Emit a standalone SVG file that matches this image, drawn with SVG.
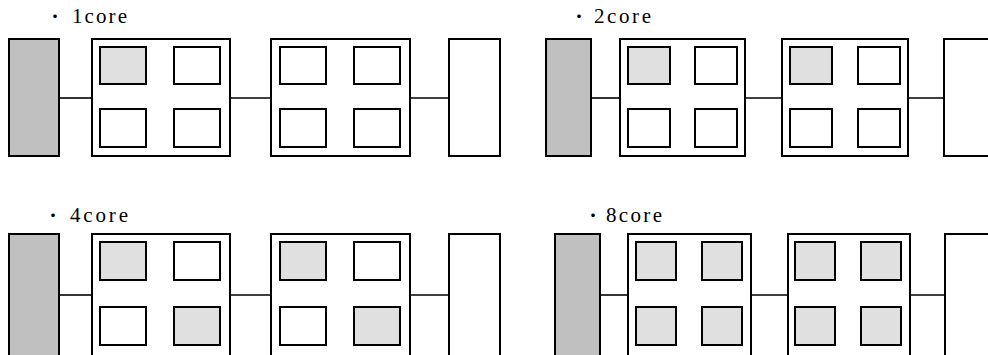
<svg xmlns="http://www.w3.org/2000/svg" width="988" height="355" viewBox="0 0 988 355">
<style>
.mem{fill:#c0c0c0;stroke:#000;stroke-width:2}
.box{fill:#fff;stroke:#000;stroke-width:2}
.core{fill:#fff;stroke:#000;stroke-width:2}
.on{fill:#e0e0e0}
.conn line{stroke:#000;stroke-width:1.6}
.lbl{font-family:"Liberation Serif","Noto Sans CJK JP",serif;font-size:21px;fill:#000}
.dot{font-family:"Noto Sans CJK JP",sans-serif;font-size:17px;fill:#000}
</style>
<rect width="988" height="355" fill="#fff"/>

<!-- Panel 1: 1core -->
<g id="label-1core"><text class="dot" x="55" y="23" text-anchor="middle">・</text><text class="lbl" x="72" y="23" textLength="55" lengthAdjust="spacing">1core</text></g>
<g id="p1-mem"><rect class="mem" x="9" y="39" width="50" height="117"/></g>
<g id="p1-cpu1"><rect class="box" x="92" y="39" width="138" height="117"/>
<rect class="core on" x="100" y="47" width="46" height="37"/><rect class="core" x="174" y="47" width="46" height="37"/>
<rect class="core" x="100" y="109" width="46" height="38"/><rect class="core" x="174" y="109" width="46" height="38"/></g>
<g id="p1-cpu2"><rect class="box" x="271" y="39" width="139" height="117"/>
<rect class="core" x="280" y="47" width="46" height="37"/><rect class="core" x="354" y="47" width="46" height="37"/>
<rect class="core" x="280" y="109" width="46" height="38"/><rect class="core" x="354" y="109" width="46" height="38"/></g>
<g id="p1-dev"><rect class="box" x="449" y="39" width="51" height="117"/></g>

<!-- Panel 2: 2core -->
<g id="label-2core"><text class="dot" x="579" y="23" text-anchor="middle">・</text><text class="lbl" x="594" y="23" textLength="57" lengthAdjust="spacing">2core</text></g>
<g id="p2-mem"><rect class="mem" x="546" y="39" width="45" height="117"/></g>
<g id="p2-cpu1"><rect class="box" x="620" y="39" width="125" height="117"/>
<rect class="core on" x="628" y="47" width="42" height="37"/><rect class="core" x="695" y="47" width="42" height="37"/>
<rect class="core" x="628" y="109" width="42" height="38"/><rect class="core" x="695" y="109" width="42" height="38"/></g>
<g id="p2-cpu2"><rect class="box" x="782" y="39" width="126" height="117"/>
<rect class="core on" x="790" y="47" width="42" height="37"/><rect class="core" x="858" y="47" width="42" height="37"/>
<rect class="core" x="790" y="109" width="42" height="38"/><rect class="core" x="858" y="109" width="42" height="38"/></g>
<g id="p2-dev"><rect class="box" x="944" y="39" width="60" height="117"/></g>

<!-- Panel 3: 4core -->
<g id="label-4core"><text class="dot" x="53" y="222" text-anchor="middle">・</text><text class="lbl" x="70" y="222" textLength="58" lengthAdjust="spacing">4core</text></g>
<g id="p3-mem"><rect class="mem" x="9" y="234" width="50" height="125"/></g>
<g id="p3-cpu1"><rect class="box" x="92" y="234" width="138" height="125"/>
<rect class="core on" x="100" y="242" width="46" height="38"/><rect class="core" x="174" y="242" width="46" height="38"/>
<rect class="core" x="100" y="307" width="46" height="38"/><rect class="core on" x="174" y="307" width="46" height="38"/></g>
<g id="p3-cpu2"><rect class="box" x="271" y="234" width="139" height="125"/>
<rect class="core on" x="280" y="242" width="46" height="38"/><rect class="core" x="354" y="242" width="46" height="38"/>
<rect class="core" x="280" y="307" width="46" height="38"/><rect class="core on" x="354" y="307" width="46" height="38"/></g>
<g id="p3-dev"><rect class="box" x="449" y="234" width="51" height="125"/></g>

<!-- Panel 4: 8core -->
<g id="label-8core"><text class="dot" x="593" y="222" text-anchor="middle">・</text><text class="lbl" x="606" y="222" textLength="56" lengthAdjust="spacing">8core</text></g>
<g id="p4-mem"><rect class="mem" x="555" y="234" width="45" height="125"/></g>
<g id="p4-cpu1"><rect class="box" x="628" y="234" width="123" height="125"/>
<rect class="core on" x="636" y="242" width="40" height="38"/><rect class="core on" x="702" y="242" width="40" height="38"/>
<rect class="core on" x="636" y="307" width="40" height="38"/><rect class="core on" x="702" y="307" width="40" height="38"/></g>
<g id="p4-cpu2"><rect class="box" x="788" y="234" width="122" height="125"/>
<rect class="core on" x="795" y="242" width="40" height="38"/><rect class="core on" x="861" y="242" width="40" height="38"/>
<rect class="core on" x="795" y="307" width="40" height="38"/><rect class="core on" x="861" y="307" width="40" height="38"/></g>
<g id="p4-dev"><rect class="box" x="945" y="234" width="60" height="125"/></g>

<g id="connectors" class="conn">
<line x1="60" y1="98" x2="91" y2="98"/><line x1="231" y1="98" x2="270" y2="98"/><line x1="411" y1="98" x2="448" y2="98"/>
<line x1="592" y1="98" x2="619" y2="98"/><line x1="746" y1="98" x2="781" y2="98"/><line x1="909" y1="98" x2="943" y2="98"/>
<line x1="60" y1="295" x2="91" y2="295"/><line x1="231" y1="295" x2="270" y2="295"/><line x1="411" y1="295" x2="448" y2="295"/>
<line x1="601" y1="295" x2="627" y2="295"/><line x1="752" y1="295" x2="787" y2="295"/><line x1="911" y1="295" x2="944" y2="295"/>
</g>
</svg>
